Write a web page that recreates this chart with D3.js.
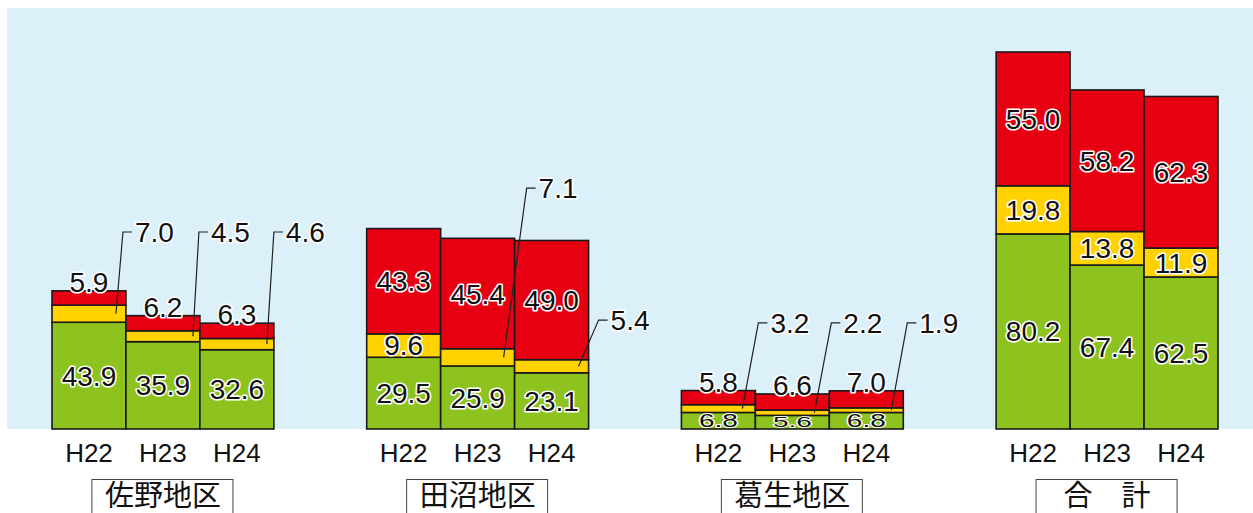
<!DOCTYPE html>
<html><head><meta charset="utf-8">
<script src="https://cdn.jsdelivr.net/npm/d3@7"></script>
<style>
html,body{margin:0;padding:0;background:#fff;}
svg{display:block;}
</style></head>
<body>
<script>
// ---- data ----
const groups = ["佐野地区", "田沼地区", "葛生地区", "合　計"];
const years = ["H22", "H23", "H24"];
const greenVals  = [43.9, 35.9, 32.6, 29.5, 25.9, 23.1, 6.8, 5.6, 6.8, 80.2, 67.4, 62.5];
const yellowVals = [7.0, 4.5, 4.6, 9.6, 7.1, 5.4, 3.2, 2.2, 1.9, 19.8, 13.8, 11.9];
const redVals    = [5.9, 6.2, 6.3, 43.3, 45.4, 49.0, 5.8, 6.6, 7.0, 55.0, 58.2, 62.3];
const unitText = "（単位：件）";

// ---- layout (annotation placement for small yellow segments) ----
// level: label height in data units; topDx / botDx: leader line offsets from bar right edge
const callouts = {
  0: {level: 81, topDx: -3, botDx: -10},
  1: {level: 81, topDx: -1, botDx: -7},
  2: {level: 81, topDx: 0, botDx: -7},
  4: {level: 99, topDx: 12, botDx: -11},
  5: {level: 44.8, topDx: 10, botDx: -10},
  6: {level: 43.6, topDx: 3, botDx: -13},
  7: {level: 43.6, topDx: 2, botDx: -15},
  8: {level: 43.6, topDx: 4, botDx: -12}
};

const W = 1253, H = 513;
const colors = {green: "#8dc21f", yellow: "#ffd200", red: "#e60012", bg: "#dcf0fa"};

const svg = d3.select("body").append("svg").attr("width", W).attr("height", H);

svg.append("rect").attr("x", 7).attr("y", 8).attr("width", W - 7).attr("height", 421)
  .attr("fill", colors.bg);

// unit text (mostly cut off at top, as in the reference)
svg.append("text").attr("x", 1241).attr("y", -3).attr("text-anchor", "end")
  .attr("font-family", "'Noto Sans CJK JP', sans-serif").attr("font-size", 20)
  .attr("fill", "#333").text(unitText);

const x0 = d3.scaleBand().domain(groups).range([52, 1218]).paddingInner(0.295).paddingOuter(0);
const x1 = d3.scaleBand().domain(years).range([0, x0.bandwidth()]).padding(0);
const y = d3.scaleLinear().domain([0, 155]).range([429, 52]);

const rows = [];
groups.forEach((g, gi) => years.forEach((yr, yi) => {
  const i = gi * 3 + yi;
  rows.push({i, g, yr, green: greenVals[i], yellow: yellowVals[i], red: redVals[i]});
}));

const numFont = "'Liberation Sans', Arial, sans-serif";

function haloText(sel) {
  return sel.attr("font-family", numFont).attr("font-size", 28)
    .attr("fill", "#111").attr("stroke", "#fff").attr("stroke-width", 3.2)
    .attr("stroke-linejoin", "round").attr("paint-order", "stroke");
}

const bars = svg.append("g");
rows.forEach(d => {
  const bx = x0(d.g) + x1(d.yr);
  const bw = x1.bandwidth();
  const segs = [
    {key: "green", v0: 0, v1: d.green},
    {key: "yellow", v0: d.green, v1: d.green + d.yellow},
    {key: "red", v0: d.green + d.yellow, v1: d.green + d.yellow + d.red}
  ];
  segs.forEach(s => {
    bars.append("rect").attr("x", bx).attr("y", y(s.v1)).attr("width", bw)
      .attr("height", y(s.v0) - y(s.v1)).attr("fill", colors[s.key])
      .attr("stroke", "#1a1a1a").attr("stroke-width", 1.6);
  });
});

const labels = svg.append("g");
rows.forEach(d => {
  const bx = x0(d.g) + x1(d.yr);
  const bw = x1.bandwidth();
  const cx = bx + bw / 2;
  const g0 = 0, g1 = d.green, y1v = d.green + d.yellow, r1 = y1v + d.red;

  function inside(v0, v1, val) {
    const h = y(v0) - y(v1);
    const cy = (y(v0) + y(v1)) / 2;
    const sy = h < 24 ? Math.max(0.5, (h - 4) / 20) : 1;
    haloText(labels.append("text"))
      .attr("text-anchor", "middle")
      .attr("transform", `translate(${cx},${cy}) scale(1,${sy})`)
      .attr("y", 10)
      .text(val.toFixed(1));
  }
  // green
  inside(g0, g1, d.green);
  // yellow
  if (callouts[d.i] === undefined) {
    inside(g1, y1v, d.yellow);
  } else {
    const c = callouts[d.i];
    const right = bx + bw;
    const by = (y(g1) + y(y1v)) / 2;
    const ty = y(c.level);
    labels.append("path")
      .attr("d", `M${right + c.botDx},${by}L${right + c.topDx},${ty}L${right + c.topDx + 9},${ty}`)
      .attr("fill", "none").attr("stroke", "#222").attr("stroke-width", 1.2);
    haloText(labels.append("text"))
      .attr("x", right + c.topDx + 12).attr("y", ty + 10)
      .attr("text-anchor", "start").text(d.yellow.toFixed(1));
  }
  // red
  if (d.red >= 10) {
    inside(y1v, r1, d.red);
  } else {
    haloText(labels.append("text"))
      .attr("x", cx).attr("y", y(r1) + 1)
      .attr("text-anchor", "middle").text(d.red.toFixed(1));
  }
  // year label
  labels.append("text").attr("x", cx).attr("y", 462)
    .attr("text-anchor", "middle").attr("font-family", numFont)
    .attr("font-size", 26).attr("fill", "#111").text(d.yr);
});

// group name boxes
groups.forEach(g => {
  const gc = x0(g) + x0.bandwidth() / 2;
  svg.append("rect").attr("x", gc - 71).attr("y", 479.5).attr("width", 141).attr("height", 45)
    .attr("fill", "#fff").attr("stroke", "#444").attr("stroke-width", 1);
  svg.append("text").attr("x", gc).attr("y", 506).attr("text-anchor", "middle")
    .attr("font-family", "'Noto Sans CJK JP', sans-serif").attr("font-size", 29)
    .attr("fill", "#111").text(g);
});
</script>
</body></html>
